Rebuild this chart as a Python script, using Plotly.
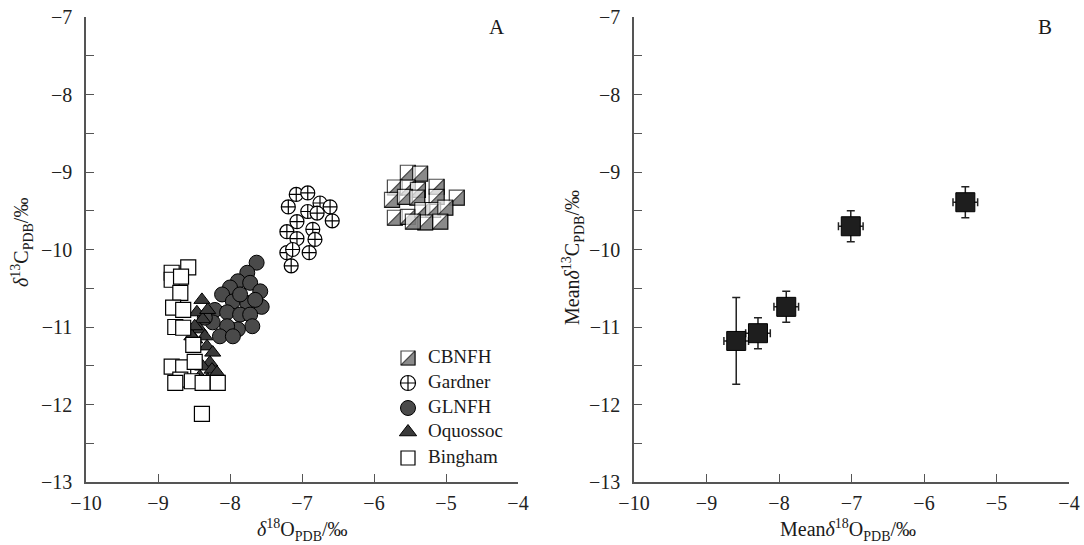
import plotly.graph_objects as go

W, H = 1084, 545

# ---------------- data: panel A (individual samples) ----------------
cbnfh_x = [-5.53, -5.36, -5.71, -5.53, -5.39, -5.13, -5.75, -5.57, -5.40, -5.13,
           -4.85, -5.71, -5.53, -5.33, -5.18, -5.01, -5.29, -5.08, -5.46]
cbnfh_y = [-9.01, -9.02, -9.20, -9.20, -9.23, -9.19, -9.36, -9.32, -9.33, -9.32,
           -9.33, -9.59, -9.58, -9.49, -9.49, -9.46, -9.65, -9.64, -9.64]

gardner_x = [-7.08, -6.92, -7.19, -6.92, -6.75, -6.61, -6.79, -6.58, -7.07, -6.85,
             -7.21, -7.07, -6.82, -7.21, -6.90, -7.13, -7.15]
gardner_y = [-9.29, -9.27, -9.45, -9.51, -9.40, -9.45, -9.53, -9.63, -9.64, -9.74,
             -9.77, -9.86, -9.87, -10.04, -10.04, -10.00, -10.21]

glnfh_x = [-7.63, -7.76, -7.89, -8.00, -7.72, -7.58, -7.56, -8.11, -7.96, -7.76,
           -8.21, -8.04, -7.86, -7.72, -7.69, -7.89, -8.04, -8.24, -8.14, -7.96,
           -8.35, -7.86, -7.65]
glnfh_y = [-10.17, -10.30, -10.41, -10.49, -10.43, -10.54, -10.74, -10.58, -10.67, -10.69,
           -10.78, -10.81, -10.84, -10.84, -10.99, -11.03, -10.99, -10.94, -11.12, -11.12,
           -10.88, -10.58, -10.65]

oquossoc_x = [-8.39, -8.46, -8.38, -8.31, -8.42, -8.35, -8.49, -8.32, -8.24, -8.28,
              -8.38, -8.25, -8.18, -8.42, -8.31, -8.49, -8.53]
oquossoc_y = [-10.65, -10.81, -10.90, -10.78, -11.03, -11.12, -11.16, -11.25, -11.33, -11.46,
              -11.51, -11.55, -11.59, -11.64, -11.68, -10.99, -11.12]

bingham_x = [-8.58, -8.81, -8.81, -8.69, -8.79, -8.65, -8.76, -8.65, -8.51, -8.81,
             -8.65, -8.49, -8.69, -8.53, -8.76, -8.38, -8.17, -8.39, -8.68]
bingham_y = [-10.23, -10.30, -10.39, -10.56, -10.75, -10.78, -11.00, -11.01, -11.23, -11.51,
             -11.52, -11.45, -11.68, -11.70, -11.72, -11.72, -11.72, -12.12, -10.35]

# ---------------- data: panel B (group means with errors) ----------------
mean_x = [-8.59, -8.29, -7.90, -7.01, -5.43]
mean_y = [-11.18, -11.08, -10.74, -9.70, -9.39]
mean_xerr = [0.17, 0.17, 0.17, 0.17, 0.17]
mean_yerr = [0.56, 0.20, 0.20, 0.20, 0.20]

# ---------------- axis settings ----------------
x_ticks = [-10, -9, -8, -7, -6, -5, -4]
y_ticks = [-13, -12, -11, -10, -9, -8, -7]
legend_names = ["CBNFH", "Gardner", "GLNFH", "Oquossoc", "Bingham"]

SERIF = "Liberation Serif"
AX = "#555555"

# plot areas in pixels
A_LEFT, A_RIGHT = 86, 518
B_LEFT, B_RIGHT = 634, 1069
TOP, BOTTOM = 17, 482


def dom_x(a, b):
    return [a / W, b / W]


def dom_y(top, bottom):
    return [1 - bottom / H, 1 - top / H]


def px(v):
    return v / W


def py(v):
    return 1 - v / H


# pixels per data unit (panel A), used to place the shaded half of the CBNFH squares
PPU_X = (A_RIGHT - A_LEFT) / (x_ticks[-1] - x_ticks[0])
PPU_Y = (BOTTOM - TOP) / (y_ticks[-1] - y_ticks[0])

fig = go.Figure()

SQ = 15
LW = 1.2


def half_square(xs, ys, size, ppu_x, ppu_y, xa, ya):
    """Square split along its diagonal: white upper-left, grey lower-right."""
    r = size / 2.0
    shift = r / 3.0
    px_list, py_list, sym, sz, col = [], [], [], [], []
    for x, y in zip(xs, ys):
        px_list += [x, x + shift / ppu_x]
        py_list += [y, y - shift / ppu_y]
        sym += ["square", "triangle-se"]
        sz += [size, size * 10.0 / 9.0]
        col += ["white", "#5a5a5a"]
    fig.add_trace(go.Scatter(
        x=px_list, y=py_list, mode="markers", xaxis=xa, yaxis=ya,
        marker=dict(symbol=sym, size=sz, color=col, line=dict(color="black", width=LW)),
        showlegend=False, hoverinfo="skip"))


# panel A
half_square(cbnfh_x, cbnfh_y, SQ, PPU_X, PPU_Y, "x", "y")
fig.add_trace(go.Scatter(
    x=gardner_x, y=gardner_y, mode="markers", xaxis="x", yaxis="y", showlegend=False,
    marker=dict(symbol="circle-cross", size=14, color="white", line=dict(color="black", width=LW))))
fig.add_trace(go.Scatter(
    x=glnfh_x, y=glnfh_y, mode="markers", xaxis="x", yaxis="y", showlegend=False,
    marker=dict(symbol="circle", size=15, color="#4a4a4a", line=dict(color="black", width=1))))
fig.add_trace(go.Scatter(
    x=oquossoc_x, y=oquossoc_y, mode="markers", xaxis="x", yaxis="y", showlegend=False,
    marker=dict(symbol="triangle-up", size=14, color="#3a3a3a", line=dict(color="black", width=1))))
fig.add_trace(go.Scatter(
    x=bingham_x, y=bingham_y, mode="markers", xaxis="x", yaxis="y", showlegend=False,
    marker=dict(symbol="square", size=SQ, color="white", line=dict(color="black", width=LW))))

# panel B
fig.add_trace(go.Scatter(
    x=mean_x, y=mean_y, mode="markers", xaxis="x2", yaxis="y2", showlegend=False,
    marker=dict(symbol="square", size=19, color="#1e1e1e", line=dict(color="black", width=1)),
    error_x=dict(type="data", array=mean_xerr, thickness=1.5, width=4, color="#222"),
    error_y=dict(type="data", array=mean_yerr, thickness=1.5, width=4, color="#222")))

# legend of panel A, drawn on its own pixel-scaled axes
LEG_L, LEG_R, LEG_T, LEG_B = 395, 540, 340, 470
leg_rows = [358, 383, 408, 432, 458]
leg_mark_x = 408
leg_text_x = 428
half_square([leg_mark_x], [leg_rows[0]], 14, 1.0, -1.0, "x3", "y3")
fig.add_trace(go.Scatter(
    x=[leg_mark_x], y=[leg_rows[1]], mode="markers", xaxis="x3", yaxis="y3", showlegend=False,
    marker=dict(symbol="circle-cross", size=15, color="white", line=dict(color="black", width=LW))))
fig.add_trace(go.Scatter(
    x=[leg_mark_x], y=[leg_rows[2]], mode="markers", xaxis="x3", yaxis="y3", showlegend=False,
    marker=dict(symbol="circle", size=15, color="#4a4a4a", line=dict(color="black", width=1))))
fig.add_trace(go.Scatter(
    x=[leg_mark_x], y=[leg_rows[3]], mode="markers", xaxis="x3", yaxis="y3", showlegend=False,
    marker=dict(symbol="triangle-up", size=15, color="#3a3a3a", line=dict(color="black", width=1))))
fig.add_trace(go.Scatter(
    x=[leg_mark_x], y=[leg_rows[4]], mode="markers", xaxis="x3", yaxis="y3", showlegend=False,
    marker=dict(symbol="square", size=14, color="white", line=dict(color="black", width=LW))))
fig.add_trace(go.Scatter(
    x=[leg_text_x] * len(legend_names), y=leg_rows, mode="text", text=legend_names,
    textposition="middle right", xaxis="x3", yaxis="y3", showlegend=False,
    textfont=dict(family=SERIF, size=19, color="#1a1a1a")))

common = dict(showline=True, linecolor=AX, linewidth=1.5, ticks="inside", ticklen=8,
              tickwidth=1.3, tickcolor=AX, showgrid=False, zeroline=False, automargin=False,
              tickfont=dict(family=SERIF, size=20, color="#222"), fixedrange=True)
xcommon = dict(common, range=[x_ticks[0], x_ticks[-1]], tickmode="array", tickvals=x_ticks,
               ticklabelstandoff=2)
ycommon = dict(common, range=[y_ticks[0], y_ticks[-1]], tickmode="array", tickvals=y_ticks,
               ticklabelstandoff=8,
               minor=dict(dtick=0.5, tick0=-13, ticks="inside", ticklen=8, tickwidth=1.3,
                          tickcolor=AX, showgrid=False))

hidden = dict(visible=False, showgrid=False, zeroline=False, fixedrange=True, automargin=False)

fig.update_layout(
    width=W, height=H,
    margin=dict(l=0, r=0, t=0, b=0, autoexpand=False),
    paper_bgcolor="white", plot_bgcolor="rgba(0,0,0,0)",
    xaxis=dict(xcommon, domain=dom_x(A_LEFT, A_RIGHT), anchor="y"),
    yaxis=dict(ycommon, domain=dom_y(TOP, BOTTOM), anchor="x"),
    xaxis2=dict(xcommon, domain=dom_x(B_LEFT, B_RIGHT), anchor="y2"),
    yaxis2=dict(ycommon, domain=dom_y(TOP, BOTTOM), anchor="x2"),
    xaxis3=dict(hidden, domain=dom_x(LEG_L, LEG_R), range=[LEG_L, LEG_R], anchor="y3"),
    yaxis3=dict(hidden, domain=dom_y(LEG_T, LEG_B), range=[LEG_B, LEG_T], anchor="x3"),
    showlegend=False,
    font=dict(family=SERIF, color="#1a1a1a"),
)

title_font = dict(family=SERIF, size=20, color="#1a1a1a")
annotations = [
    dict(text="<i>δ</i><sup>18</sup>O<sub>PDB</sub>/‰", x=px(302), y=py(530)),
    dict(text="<i>δ</i><sup>13</sup>C<sub>PDB</sub>/‰", x=px(22), y=py(243), textangle=-90),
    dict(text="Mean<i>δ</i><sup>18</sup>O<sub>PDB</sub>/‰", x=px(848), y=py(530)),
    dict(text="Mean<i>δ</i><sup>13</sup>C<sub>PDB</sub>/‰", x=px(573), y=py(258), textangle=-90),
]
for a in annotations:
    fig.add_annotation(xref="paper", yref="paper", xanchor="center", yanchor="middle",
                       showarrow=False, font=title_font, **a)

for label, xp in (("A", 497), ("B", 1045)):
    fig.add_annotation(xref="paper", yref="paper", x=px(xp), y=py(27), text=label,
                       showarrow=False, xanchor="center", yanchor="middle",
                       font=dict(family=SERIF, size=21, color="#1a1a1a"))

fig.write_html("out.html")
